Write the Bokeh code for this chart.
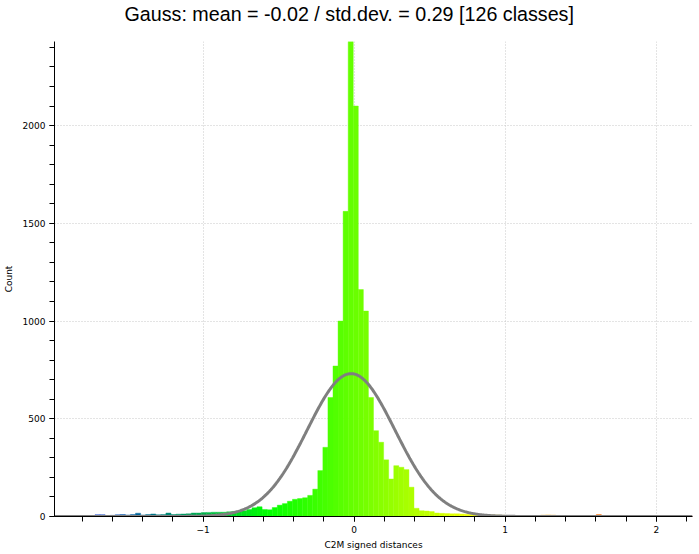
import numpy as np
from bokeh.plotting import figure
from bokeh.models import Range1d, SingleIntervalTicker, Title
from bokeh.embed import file_html
from bokeh.resources import INLINE

# ---- data ----
title_text = "Gauss: mean = -0.02 / std.dev. = 0.29 [126 classes]"
x_label = "C2M signed distances"
y_label = "Count"

x_min = -1.983          # data range of the histogram (= x axis range)
x_max = 2.24
n_classes = 126

gauss_mean = -0.02
gauss_std = 0.29

counts = [
    1, 0, 0, 0, 0, 0, 0, 0, 9, 9,            # 0-9
    3, 6, 9, 10, 8, 10, 17, 8, 10, 13,       # 10-19
    9, 10, 18, 10, 12, 13, 14, 18, 18, 20,   # 20-29
    21, 22, 22, 22, 24, 26, 28, 30, 36, 45,  # 30-39
    50, 36, 34, 46, 58, 66, 78, 88, 92, 96,  # 40-49
    108, 140, 235, 354, 609, 770, 1000, 1561, 2430, 2100,  # 50-59
    1161, 1051, 609, 439, 380, 290, 192, 260, 252, 240,    # 60-69
    150, 42, 30, 28, 25, 18, 16, 15, 14, 14,  # 70-79
    13, 12, 10, 9, 9, 8, 8, 7, 6, 5,          # 80-89
    5, 4, 3, 2, 2, 2, 7, 8, 7, 2,             # 90-99
    1, 0, 0, 1, 0, 0, 1, 10, 0, 0,            # 100-109
    0, 0, 0, 0, 0, 0, 0, 0, 0, 0,             # 110-119
    0, 0, 0, 0, 0, 1,                         # 120-125
]

# ---- derived geometry ----
edges = np.linspace(x_min, x_max, n_classes + 1)
width = edges[1] - edges[0]
centers = 0.5 * (edges[:-1] + edges[1:])

# Blue > Green > Yellow > Red colour scale over the value range
frac = (centers - x_min) / (x_max - x_min)
stops = [0.0, 1.0 / 3.0, 2.0 / 3.0, 1.0]
rr = np.interp(frac, stops, [0, 0, 255, 255])
gg = np.interp(frac, stops, [0, 255, 255, 0])
bb = np.interp(frac, stops, [255, 0, 0, 0])
colors = ["#%02x%02x%02x" % (int(round(a)), int(round(b)), int(round(c)))
          for a, b, c in zip(rr, gg, bb)]

total = float(sum(counts))
gx = np.linspace(x_min, x_max, 800)
gy = total * width / (gauss_std * np.sqrt(2 * np.pi)) * np.exp(
    -0.5 * ((gx - gauss_mean) / gauss_std) ** 2)

# ---- figure ----
p = figure(width=699, height=554,
           x_range=Range1d(x_min, x_max), y_range=Range1d(0, max(counts)),
           output_backend="svg", toolbar_location=None,
           min_border_left=53, min_border_right=7,
           min_border_top=0, min_border_bottom=38,
           title=title_text)

p.title.text_font = "Liberation Sans"
p.title.text_font_size = "19.7px"
p.title.text_font_style = "normal"
p.title.text_color = "#000000"
p.title.align = "left"
p.title.offset = 70
p.title.standoff = 0

# empty spacer between the title and the plot frame
p.add_layout(Title(text=" ", text_font_size="13px", standoff=0), "above")

p.outline_line_color = None
p.background_fill_color = "white"
p.border_fill_color = "white"

p.quad(left=edges[:-1], right=edges[1:], bottom=0, top=counts,
       fill_color=colors, line_color=colors, line_width=0.4)
p.line(gx, gy, line_color="#7f7f7f", line_width=3)

xt = SingleIntervalTicker(interval=1, num_minor_ticks=5)
yt = SingleIntervalTicker(interval=500, num_minor_ticks=5)
p.xaxis.ticker = xt
p.yaxis.ticker = yt
p.xgrid.ticker = xt
p.ygrid.ticker = yt

for g in (p.xgrid, p.ygrid):
    g.grid_line_color = "#c8c8c8"
    g.grid_line_dash = "1 2"
    g.grid_line_width = 1

p.xaxis.axis_label = x_label
p.yaxis.axis_label = y_label
for ax in (p.xaxis, p.yaxis):
    ax.axis_line_color = "#000000"
    ax.axis_line_width = 1
    ax.major_tick_line_color = "#000000"
    ax.minor_tick_line_color = "#000000"
    ax.major_tick_out = 5
    ax.major_tick_in = 0
    ax.minor_tick_out = 5
    ax.minor_tick_in = 0
    ax.major_label_text_font = "DejaVu Sans"
    ax.major_label_text_font_size = "9px"
    ax.major_label_text_color = "#000000"
    ax.axis_label_text_font = "DejaVu Sans"
    ax.axis_label_text_font_size = "9px"
    ax.axis_label_text_font_style = "normal"
    ax.axis_label_text_color = "#000000"

p.yaxis.major_label_standoff = 4
p.yaxis.axis_label_standoff = 6
p.xaxis.major_label_standoff = 4
p.xaxis.axis_label_standoff = 4

open("out.html", "w").write(file_html(p, INLINE))
